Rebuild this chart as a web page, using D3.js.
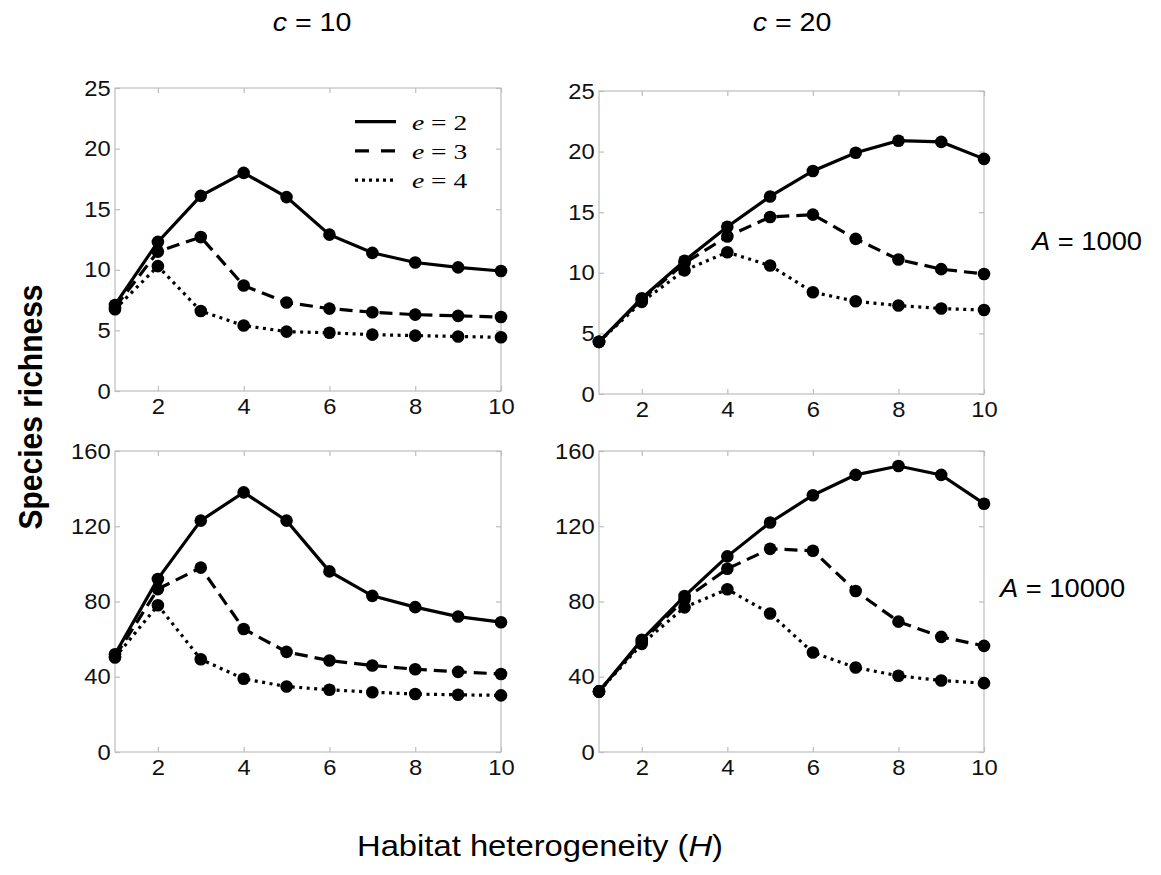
<!DOCTYPE html>
<html>
<head>
<meta charset="utf-8">
<script src="https://cdn.jsdelivr.net/npm/d3@7"></script>
<style>
  body { margin: 0; background: #fff; }
  svg text { font-family: "Liberation Sans", Arial, sans-serif; }
</style>
</head>
<body>
<div id="chart"></div>
<script>
var H = [1, 2, 3, 4, 5, 6, 7, 8, 9, 10];
var xTicks = [2, 4, 6, 8, 10];
var yTicksSmall = [0, 5, 10, 15, 20, 25];
var yTicksLarge = [0, 40, 80, 120, 160];
var eLevels = [2, 3, 4];

// c = 10, A = 1000
var c10a1000 = [
  [7.1, 12.3, 16.1, 18.0, 16.0, 12.9, 11.4, 10.6, 10.2, 9.9],
  [6.9, 11.5, 12.7, 8.7, 7.3, 6.8, 6.5, 6.3, 6.2, 6.1],
  [6.75, 10.3, 6.6, 5.4, 4.9, 4.8, 4.65, 4.57, 4.5, 4.43]
];
// c = 20, A = 1000
var c20a1000 = [
  [4.3, 7.9, 11.0, 13.8, 16.3, 18.4, 19.9, 20.9, 20.8, 19.4],
  [4.3, 7.8, 10.8, 13.0, 14.6, 14.8, 12.8, 11.1, 10.3, 9.9],
  [4.3, 7.6, 10.2, 11.7, 10.6, 8.4, 7.65, 7.3, 7.05, 6.93]
];
// c = 10, A = 10000
var c10a10000 = [
  [52, 92, 123, 138, 123, 96, 83, 77, 72, 69],
  [50.7, 86.6, 98, 65.4, 53.2, 48.6, 46, 44, 42.6, 41.5],
  [50.2, 78, 49.3, 38.9, 34.8, 33.1, 31.8, 30.8, 30.4, 30.1]
];
// c = 20, A = 10000
var c20a10000 = [
  [32.2, 59.6, 82.9, 104, 122, 136.5, 147.3, 152, 147.3, 132],
  [32.2, 58.7, 81.2, 97.4, 108, 107, 85.6, 69.3, 61.2, 56.4],
  [32.2, 57.5, 76.9, 86.5, 73.6, 52.9, 44.9, 40.5, 38, 36.6]
];

var dashes = ["none", "13,7", "3,4.5"];

var panels = [
  { data: c10a1000, yMax: 25, yTicks: yTicksSmall, x0: 115, x1: 501, y0: 88, y1: 391 },
  { data: c20a1000, yMax: 25, yTicks: yTicksSmall, x0: 599, x1: 984, y0: 91, y1: 394 },
  { data: c10a10000, yMax: 160, yTicks: yTicksLarge, x0: 115, x1: 501, y0: 451, y1: 752 },
  { data: c20a10000, yMax: 160, yTicks: yTicksLarge, x0: 599, x1: 984, y0: 451, y1: 752 }
];

var svg = d3.select("#chart").append("svg")
  .attr("width", 1161).attr("height", 875);

var frame = "#bdbdbd";

// text with a slight horizontal stretch, like the original scan
var label = function(x, y, anchor, size, sx, parts, extra) {
  var t = svg.append("g")
    .attr("transform", "translate(" + x + "," + y + ") scale(" + sx + ",1)" + (extra || ""))
    .append("text")
    .attr("text-anchor", anchor)
    .style("font-size", size + "px");
  parts.forEach(function(p) {
    t.append("tspan").style("font-style", p[1] ? "italic" : "normal").text(p[0]);
  });
  return t;
};

panels.forEach(function(p) {
  var x = d3.scaleLinear().domain([1, 10]).range([p.x0, p.x1]);
  var y = d3.scaleLinear().domain([0, p.yMax]).range([p.y1, p.y0]);
  var g = svg.append("g");

  g.append("rect")
    .attr("x", p.x0).attr("y", p.y0)
    .attr("width", p.x1 - p.x0).attr("height", p.y1 - p.y0)
    .attr("fill", "none").attr("stroke", frame).attr("stroke-width", 1.2);

  // ticks inward on all four sides
  var xb = d3.axisBottom(x).tickValues(xTicks).tickSizeInner(-5).tickSizeOuter(0).tickPadding(7);
  var xt = d3.axisTop(x).tickValues(xTicks).tickSizeInner(-5).tickSizeOuter(0).tickFormat("");
  var yl = d3.axisLeft(y).tickValues(p.yTicks).tickSizeInner(-5).tickSizeOuter(0).tickPadding(4);
  var yr = d3.axisRight(y).tickValues(p.yTicks).tickSizeInner(-5).tickSizeOuter(0).tickFormat("");

  [[xb, "translate(0," + p.y1 + ")"], [xt, "translate(0," + p.y0 + ")"],
   [yl, "translate(" + p.x0 + ",0)"], [yr, "translate(" + p.x1 + ",0)"]].forEach(function(a) {
    var ax = g.append("g").attr("transform", a[1]).call(a[0])
      .attr("font-size", 22).attr("font-family", null);
    ax.select(".domain").remove();
    ax.selectAll("line").attr("stroke", frame).attr("stroke-width", 1.2);
    ax.selectAll("text").attr("fill", "#111").style("font-size", "22px")
      .attr("transform", "scale(1.08,1)");
  });

  var line = d3.line().x(function(d, i) { return x(H[i]); }).y(function(d) { return y(d); });

  p.data.forEach(function(s, k) {
    g.append("path")
      .datum(s)
      .attr("d", line)
      .attr("fill", "none")
      .attr("stroke", "#000")
      .attr("stroke-width", 3.2)
      .attr("stroke-dasharray", dashes[k]);
  });
  p.data.forEach(function(s) {
    g.selectAll(null)
      .data(s)
      .enter().append("circle")
      .attr("cx", function(d, i) { return x(H[i]); })
      .attr("cy", function(d) { return y(d); })
      .attr("r", 6.3)
      .attr("fill", "#000");
  });
});

// legend
eLevels.forEach(function(e, k) {
  var yy = 121.7 + k * 29.2;
  svg.append("line")
    .attr("x1", 355).attr("x2", 396).attr("y1", yy).attr("y2", yy)
    .attr("stroke", "#000").attr("stroke-width", 3.2)
    .attr("stroke-dasharray", k === 2 ? "3,4" : (k === 1 ? "14,12" : "none"));
  label(412, yy + 8.3, "start", 22, 1.25, [["e", true], [" = " + e, false]])
    .style("font-family", "'Liberation Serif', 'Times New Roman', serif");
});

// column titles
label(312, 31, "middle", 26, 1.1, [["c", true], [" = 10", false]]);
label(792, 31, "middle", 26, 1.1, [["c", true], [" = 20", false]]);

// row labels
label(1032, 250, "start", 26, 1.05, [["A", true], [" = 1000", false]]);
label(1000, 597, "start", 26, 1.05, [["A", true], [" = 10000", false]]);

label(42, 407, "middle", 30, 1.1, [["Species richness", false]], " rotate(-90)")
  .style("font-weight", "bold");

label(540, 856, "middle", 29, 1.13,
  [["Habitat heterogeneity (", false], ["H", true], [")", false]]);
</script>
</body>
</html>
